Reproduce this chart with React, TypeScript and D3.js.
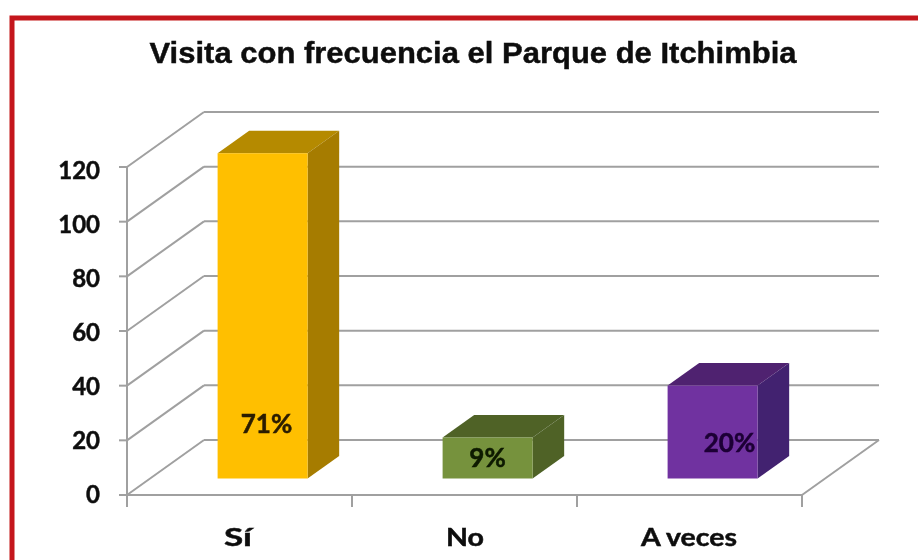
import React from "react";
import * as d3 from "d3";

const categories = ["Sí", "No", "A veces"];
const values = [119, 15, 34];
const labels = ["71%", "9%", "20%"];
const ticks = [0, 20, 40, 60, 80, 100, 120];
const frontColors = ["#FFBF00", "#76923C", "#7030A0"];
const topColors = ["#B58A00", "#4F6228", "#4F2170"];
const sideColors = ["#A67C00", "#4F6228", "#43206F"];
const title = "Visita con frecuencia el Parque de Itchimbia";

const W = 918, H = 560;
const x = d3.scaleBand<string>().domain(categories).range([127, 802]);
const y = d3.scaleLinear().domain([0, 120]).range([495, 167]);
const yLabel = d3.scaleLinear().domain([0, 120]).range([495, 171]);
const DX = 77, DY = -55;
const zIn = 0.3, zSpan = 0.41;
const barW = 90;

const poly = (p: [number, number][]) => p.map((q) => q.join(",")).join(" ");

export default function App() {
  const grid = "#A0A0A0";
  const right = x.range()[1];
  const left = x.range()[0];
  const ff = "Lato, 'Open Sans', sans-serif";
  return (
    <svg width={W} height={H} style={{ position: "fixed", left: 0, top: 0, background: "#fff" }}>
      <defs>
        <filter id="soft" x="-5%" y="-5%" width="110%" height="110%">
          <feGaussianBlur stdDeviation="0.7" />
        </filter>
      </defs>
      <g filter="url(#soft)">
        <path d={`M12 ${H}V18H${W}`} fill="none" stroke="#C4141C" strokeWidth={5} />
        <text x={473} y={63} textAnchor="middle" fontFamily="'Liberation Sans', Arial, sans-serif" fontWeight={700} fontSize={29} fill="#0a0a0a" stroke="#0a0a0a" strokeWidth={0.4} textLength={647} lengthAdjust="spacingAndGlyphs">{title}</text>

        {ticks.map((t) => (
          <g key={t}>
            <line x1={left - 8} x2={left} y1={y(t)} y2={y(t)} stroke={grid} strokeWidth={2} />
            <line x1={left} y1={y(t)} x2={left + DX} y2={y(t) + DY} stroke={grid} strokeWidth={2} />
            <line x1={left + DX} y1={y(t) + DY} x2={right + DX} y2={y(t) + DY} stroke={grid} strokeWidth={2} />
            <text x={100} y={yLabel(t) + 8} textAnchor="end" fontFamily={ff} fontWeight={700} fontSize={24} fill="#111" stroke="#111" strokeWidth={0.5}>{t}</text>
          </g>
        ))}
        <line x1={left} x2={left} y1={y(120)} y2={y(0) + 12} stroke={grid} strokeWidth={2} />
        <line x1={left} x2={right} y1={y(0)} y2={y(0)} stroke={grid} strokeWidth={2} />
        <line x1={right} y1={y(0)} x2={right + DX} y2={y(0) + DY} stroke={grid} strokeWidth={2} />
        {categories.map((c) => (
          <line key={c} x1={(x(c) as number) + x.bandwidth()} x2={(x(c) as number) + x.bandwidth()} y1={y(0)} y2={y(0) + 12} stroke={grid} strokeWidth={2} />
        ))}

        {categories.map((c, i) => {
          const x0 = (x(c) as number) + (x.bandwidth() - barW) / 2 + DX * zIn;
          const x1 = x0 + barW;
          const bot = y(0) + DY * zIn;
          const top = bot - (y(0) - y(values[i]));
          const dx = DX * zSpan, dy = DY * zSpan;
          return (
            <g key={c}>
              <polygon points={poly([[x0, top], [x1, top], [x1 + dx, top + dy], [x0 + dx, top + dy]])} fill={topColors[i]} />
              <polygon points={poly([[x1, top], [x1 + dx, top + dy], [x1 + dx, bot + dy], [x1, bot]])} fill={sideColors[i]} />
              <rect x={x0} y={top} width={barW} height={bot - top} fill={frontColors[i]} />
            </g>
          );
        })}

        {categories.map((c, i) => {
          const cx = (x(c) as number) + x.bandwidth() / 2;
          const off = [27, 23, 40][i];
          const ly = [433, 467, 452][i];
          const col = ["#2a1d00", "#0e1a00", "#1c0035"][i];
          return (
            <g key={c}>
              <text x={cx + off} y={ly} textAnchor="middle" fontFamily={ff} fontWeight={700} fontSize={26} fill={col} stroke={col} strokeWidth={0.5}>{labels[i]}</text>
              <text x={[238, 465, 689][i]} y={546} textAnchor="middle" fontFamily={ff} fontWeight={700} fontSize={25} fill="#111" stroke="#111" strokeWidth={0.5} textLength={[28, 38, 96][i]} lengthAdjust="spacingAndGlyphs">{c}</text>
            </g>
          );
        })}
      </g>
    </svg>
  );
}
